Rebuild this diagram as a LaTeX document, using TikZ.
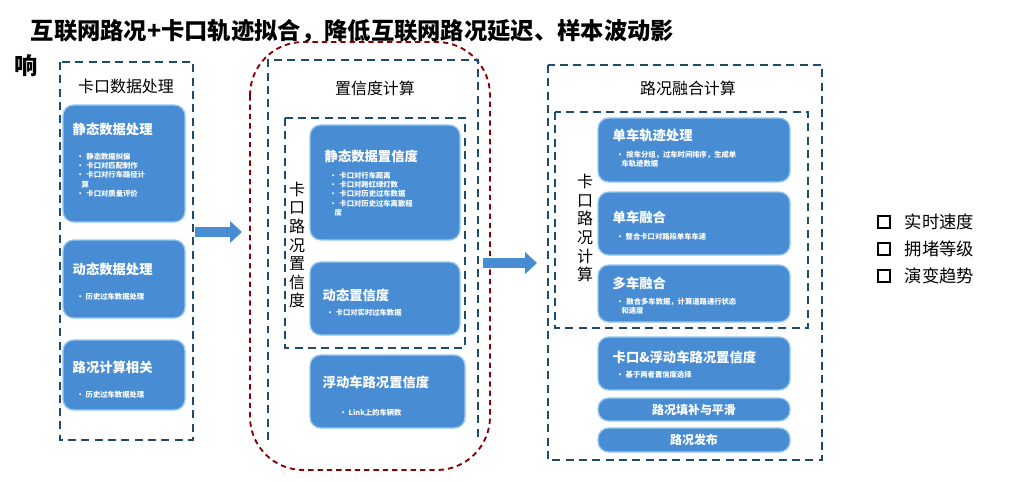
\documentclass[tikz,border=0pt]{standalone}
\usepackage{fontspec}
\setmainfont{Noto Sans CJK SC}
\usepackage{tikz}
\usetikzlibrary{calc, arrows.meta}
\definecolor{boxblue}{RGB}{72,140,212}
\definecolor{boxedge}{RGB}{150,200,240}
\definecolor{dashblue}{RGB}{30,75,110}
\begin{document}
\begin{tikzpicture}[x=0.0264cm, y=-0.0264cm,
        frame/.style={draw=dashblue, line width=1.6pt, dash pattern=on 6pt off 4pt},
        card/.style={draw=boxedge, line width=1pt, fill=boxblue, rounded corners=8pt},
        cardtitle/.style={anchor=north west, text=white, font=\bfseries\fontsize{10}{12}\selectfont},
        cardlist/.style={anchor=north west, text=white, font=\bfseries\fontsize{5.5}{7}\selectfont, align=left},
        heading/.style={font=\fontsize{12}{14}\selectfont},
        bigarrow/.style={-{Triangle[length=9pt, width=16pt]}, draw=boxblue, line width=7pt}
    ]
        \useasboundingbox (0,0) rectangle (1014,481);

        % Title
        \node[anchor=west, font=\bfseries\fontsize{17.5}{20}\selectfont] (title) at (26,31)
            {互联网路况+卡口轨迹拟合，降低互联网路况延迟、样本波动影};
        \node[anchor=west, font=\bfseries\fontsize{17.5}{20}\selectfont] (title2) at (10,66) {响};

        % Left column
        \draw[frame] (60,62) rectangle (193,440);
        \node[heading] (lefthead) at (126,86) {卡口数据处理};
        \draw[card] (63,105) rectangle (185,222);
        \node[cardtitle] (static) at (68,118) {静态数据处理};
        \node[cardlist, text width=2.6cm] (staticlist) at (72,148)
            {• 静态数据纠偏\\• 卡口对匹配制作\\• 卡口对行车路径计\\\ \ 算\\• 卡口对质量评价};
        \draw[card] (63,240) rectangle (185,318);
        \node[cardtitle] (dynamic) at (68,258) {动态数据处理};
        \node[cardlist] (dynamiclist) at (72,288) {• 历史过车数据处理};
        \draw[card] (63,340) rectangle (185,410);
        \node[cardtitle] (calc) at (68,356) {路况计算相关};
        \node[cardlist] (calclist) at (72,386) {• 历史过车数据处理};

        \coordinate (a1) at (195,232);
        \coordinate (a2) at (242,232);
        \draw[bigarrow] (a1) -- (a2);

        % Middle column
        \draw[red!55!black, line width=1.4pt, dash pattern=on 4pt off 3pt, rounded corners=40pt]
            (250,42) rectangle (490,470);
        \draw[frame] (268,440) -- (268,60) -- (478,60) -- (478,440);
        \node[heading] (midhead) at (375,88) {置信度计算};
        \draw[frame] (285,118) rectangle (465,348);
        \node[heading, text width=12pt, align=center] (midvert) at (297,245) {卡\\口\\路\\况\\置\\信\\度};
        \draw[card] (310,125) rectangle (460,240);
        \node[cardtitle] (sconf) at (320,145) {静态数据置信度};
        \node[cardlist, text width=2.9cm] (sconflist) at (325,167)
            {• 卡口对行车距离\\• 卡口对跨红绿灯数\\• 卡口对历史过车数据\\• 卡口对历史过车离散程\\\ \ 度};
        \draw[card] (310,262) rectangle (460,335);
        \node[cardtitle] (dconf) at (318,284) {动态置信度};
        \node[cardlist] (dconflist) at (322,304) {• 卡口对实时过车数据};
        \draw[card] (310,355) rectangle (465,428);
        \node[cardtitle] (fconf) at (318,371) {浮动车路况置信度};
        \node[cardlist] (fconflist) at (335,404) {• Link上的车辆数};

        \coordinate (b1) at (483,263);
        \coordinate (b2) at (537,263);
        \draw[bigarrow] (b1) -- (b2);

        % Right column
        \draw[frame] (548,65) rectangle (822,460);
        \node[heading] (righthead) at (688,88) {路况融合计算};
        \draw[frame] (555,112) rectangle (808,328);
        \node[heading, text width=12pt, align=center] (rightvert) at (585,228) {卡\\口\\路\\况\\计\\算};
        \draw[card] (598,118) rectangle (790,182);
        \node[cardtitle] (track) at (608,124) {单车轨迹处理};
        \node[cardlist, text width=4.5cm] (tracklist) at (612,146) {• 按车分组，过车时间排序，生成单\\\ \ 车轨迹数据};
        \draw[card] (598,192) rectangle (790,255);
        \node[cardtitle] (single) at (608,206) {单车融合};
        \node[cardlist] (singlelist) at (612,228) {• 整合卡口对路段单车车速};
        \draw[card] (598,265) rectangle (790,322);
        \node[cardtitle] (multi) at (608,272) {多车融合};
        \node[cardlist, text width=4.5cm] (multilist) at (612,293) {• 融合多车数据，计算道路通行状态\\\ \ 和速度};
        \draw[card] (598,337) rectangle (790,390);
        \node[cardtitle] (mix) at (608,346) {卡口\&浮动车路况置信度};
        \node[cardlist] (mixlist) at (612,366) {• 基于两者置信度选择};
        \draw[card] (598,398) rectangle (790,421);
        \node[text=white, font=\bfseries\fontsize{9}{11}\selectfont] (smooth) at (694,410) {路况填补与平滑};
        \draw[card] (598,428) rectangle (790,452);
        \node[text=white, font=\bfseries\fontsize{9}{11}\selectfont] (publish) at (694,440) {路况发布};

        % Legend
        \foreach \lbl [count=\i] in {实时速度, 拥堵等级, 演变趋势} {
            \node[draw, line width=1.2pt, minimum size=9pt, inner sep=0pt] (sq\i) at (884,195+27*\i) {};
            \node[anchor=west, font=\fontsize{13}{15}\selectfont] (lg\i) at (900,195+27*\i) {\lbl};
        }
    \end{tikzpicture}
\end{document}
